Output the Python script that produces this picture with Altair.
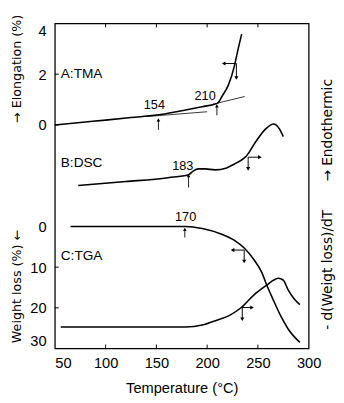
import altair as alt
import pandas as pd

# ---------------- data ----------------
# A: TMA  (elongation %, left upper axis)
TMA_T = [50, 75, 100, 125, 154, 180, 195, 210, 215, 221, 227, 230, 234]
TMA_E = [0.0, 0.1, 0.19, 0.29, 0.41, 0.6, 0.72, 0.85, 1.15, 1.58, 2.35, 2.9, 3.58]
TAN1_T = [140, 200]
TAN1_E = [0.33, 0.52]
TAN2_T = [205, 237]
TAN2_E = [0.81, 1.12]

# B: DSC (arbitrary units, endothermic up)
DSC_T = [73, 120, 161.5, 181.7, 186.5, 191.3, 198, 207.7, 219.2, 226.9, 233.7,
         238.5, 248, 257.7, 265.4, 271.2, 275]
DSC_D = [0.0, 0.4, 0.8, 1.1, 1.5, 1.7, 1.7, 1.6, 1.8, 2.2, 2.6,
         3.0, 4.5, 5.8, 6.3, 5.8, 5.0]

# C: TGA (weight loss %, left lower axis, reversed)
TGA_T = [65.4, 120, 178.8, 195.2, 214.4, 226.9, 236.5, 246.2, 253.8, 258.7,
         265.4, 272.1, 279.8, 291.3]
TGA_W = [0.0, 0.0, 0.0, 0.5, 1.9, 3.4, 5.3, 8.2, 11.3, 14.4,
         18.2, 21.8, 25.2, 28.5]

# DTG: -d(weight loss)/dT (arbitrary units)
DTG_T = [55.8, 120, 178.8, 195.2, 209.6, 222.1, 233.7, 246.2, 258.7, 265.4,
         270.2, 275, 279.8, 285.6, 291.3]
DTG_G = [0.0, 0.0, 0.0, 0.2, 0.7, 1.2, 2.0, 3.3, 4.3, 4.8,
         5.0, 4.8, 3.8, 2.9, 2.3]

# curve names
NAME_T = 55.8
TMA_NAME, TMA_NAME_V = "A:TMA", 2.0
DSC_NAME, DSC_NAME_V = "B:DSC", 2.3
TGA_NAME, TGA_NAME_V = "C:TGA", 7.4

# onset temperatures: label position and arrow (x, arrow top y, arrow bottom y)
TMA_LBL_T = [148, 198]
TMA_LBL_V = [0.77, 1.15]
TMA_LBL = ["154", "210"]
TMA_UP_T = [152, 209.6]
TMA_UP_TOP = [0.2, 0.75]
TMA_UP_BOT = [-0.19, 0.38]

DSC_LBL_T = [176]
DSC_LBL_V = [2.0]
DSC_LBL = ["183"]
DSC_UP_T = [181.7]
DSC_UP_TOP = [1.0]
DSC_UP_BOT = [-0.2]

TGA_LBL_T = [178.8]
TGA_LBL_V = [-2.4]
TGA_LBL = ["170"]
TGA_UP_T = [178]
TGA_UP_TOP = [0.7]
TGA_UP_BOT = [2.7]

# L-shaped axis markers: corner x, corner y, horizontal end x, vertical end y
TMA_L = [228.8, 2.42, 216.3, 1.85]
DSC_L = [240.4, 2.9, 252.0, 1.7]
TGA_L = [236.5, 5.8, 225.0, 8.6]
DTG_L = [234.6, 2.0, 244.2, 0.8]

X_TICKS = [50, 100, 150, 200, 250, 300]
TMA_TICKS = [0, 2, 4]
TGA_TICKS = [0, 10, 20, 30]

# ---------------- scales ----------------
W, H = 260, 333
XD = [50, 300]
TMA_D = [-8.81, 4]
DSC_DOM = [-16.7, 16.6]
TGA_DOM = [-49.9, 30]
DTG_DOM = [-2.2, 31.1]
FONT = "Liberation Sans"
AFONT = "DejaVu Sans"
TICK_PX = 4


def xs(axis=None):
    return alt.X("T:Q", scale=alt.Scale(domain=XD, nice=False, zero=False), axis=axis)


def ys(dom, rev=False, axis=None, field="v"):
    return alt.Y(f"{field}:Q", scale=alt.Scale(domain=dom, nice=False, zero=False, reverse=rev), axis=axis)


def line(T, V, dom, rev=False, xaxis=None, yaxis=None, width=1.6):
    df = pd.DataFrame({"T": T, "v": V})
    return alt.Chart(df).mark_line(color="black", strokeWidth=width, interpolate="monotone").encode(
        x=xs(xaxis), y=ys(dom, rev, yaxis))


def texts(T, V, L, dom, rev=False, align="center", size=13):
    df = pd.DataFrame({"T": T, "v": V, "t": L})
    return alt.Chart(df).mark_text(font=FONT, fontSize=size, color="black", align=align,
                                   baseline="middle").encode(x=xs(), y=ys(dom, rev), text="t:N")


def ups(T, top, bot, dom, rev=False):
    df = pd.DataFrame({"T": T, "v": bot, "v2": top})
    r = alt.Chart(df).mark_rule(color="black", strokeWidth=0.9).encode(
        x=xs(), y=ys(dom, rev), y2="v2:Q")
    h = pd.DataFrame({"T": T, "v": top})
    p = alt.Chart(h).mark_point(filled=True, color="black", size=14, opacity=1,
                                shape="triangle-up").encode(x=xs(), y=ys(dom, rev))
    return [r, p]


def lmark(L, dom, rev=False):
    cx, cy, hx, vy = L
    seg = pd.DataFrame({"T": [cx, cx], "T2": [hx, cx], "v": [cy, cy], "v2": [cy, vy]})
    rules = alt.Chart(seg).mark_rule(color="black", strokeWidth=1).encode(
        x=xs(), x2="T2:Q", y=ys(dom, rev), y2="v2:Q")
    heads = pd.DataFrame({"T": [hx, cx], "v": [cy, vy],
                          "s": ["triangle-left" if hx < cx else "triangle-right", "triangle-down"]})
    pts = alt.Chart(heads).mark_point(filled=True, color="black", size=18, opacity=1).encode(
        x=xs(), y=ys(dom, rev), shape=alt.Shape("s:N", scale=None))
    return [rules, pts]


# inward tick marks (drawn as rules at the tick values)
def xticks_inner():
    dy = (TMA_D[1] - TMA_D[0]) * TICK_PX / H
    vals = X_TICKS[1:-1]
    df = pd.DataFrame({"T": vals * 2,
                       "v": [TMA_D[0]] * len(vals) + [TMA_D[1]] * len(vals),
                       "v2": [TMA_D[0] + dy] * len(vals) + [TMA_D[1] - dy] * len(vals)})
    return alt.Chart(df).mark_rule(color="black", strokeWidth=1).encode(
        x=xs(), y=ys(TMA_D), y2="v2:Q")


def yticks_inner(vals, dom, rev=False):
    dx = (XD[1] - XD[0]) * TICK_PX / W
    df = pd.DataFrame({"T": [XD[0]] * len(vals), "T2": [XD[0] + dx] * len(vals), "v": vals})
    return alt.Chart(df).mark_rule(color="black", strokeWidth=1).encode(
        x=xs(), x2="T2:Q", y=ys(dom, rev))


# ---------------- axes ----------------
x_main = alt.Axis(orient="bottom", values=X_TICKS, ticks=False, domain=False, grid=False,
                  labelFontSize=15, labelPadding=7,
                  labelAlign={"condition": {"test": "datum.value == 50", "value": "left"}, "value": "center"},
                  title="Temperature (°C)", titleFontSize=15, titleFontWeight="normal",
                  titleY=40, titleBaseline="middle")

tma_left = alt.Axis(orient="left", values=TMA_TICKS, ticks=False, domain=False, grid=False,
                    labelFontSize=15, labelFlush=True, labelPadding=9,
                    title="→ Elongation (%)", titleX=-39, titleY=46, titleAngle=270,
                    titleAlign="center", titleBaseline="middle", titleFontSize=13,
                    titleFont=AFONT, titleFontWeight="normal")
tga_left = alt.Axis(orient="left", values=TGA_TICKS, ticks=False, domain=False, grid=False,
                    labelFontSize=15, labelFlush=True, labelPadding=9,
                    title="Weight loss (%) ←", titleX=-39, titleY=269, titleAngle=270,
                    titleAlign="center", titleBaseline="middle", titleFontSize=13,
                    titleFont=AFONT, titleFontWeight="normal")
dsc_right = alt.Axis(orient="right", ticks=False, labels=False, domain=False, grid=False,
                     title="→ Endothermic", titleX=19, titleY=109, titleAngle=270,
                     titleAlign="center", titleBaseline="middle", titleFontSize=14,
                     titleFont=AFONT, titleFontWeight="normal")
dtg_right = alt.Axis(orient="right", ticks=False, labels=False, domain=False, grid=False,
                     title="- d(Weigt loss)/dT", titleX=19, titleY=252, titleAngle=270,
                     titleAlign="center", titleBaseline="middle", titleFontSize=14,
                     titleFont=AFONT, titleFontWeight="normal")

layers = [
    line(TMA_T, TMA_E, TMA_D, xaxis=x_main, yaxis=tma_left),
    line(TAN1_T, TAN1_E, TMA_D, width=0.8),
    line(TAN2_T, TAN2_E, TMA_D, width=0.8),
    line(TGA_T, TGA_W, TGA_DOM, rev=True, yaxis=tga_left),
    line(DSC_T, DSC_D, DSC_DOM, yaxis=dsc_right),
    line(DTG_T, DTG_G, DTG_DOM, yaxis=dtg_right),
    xticks_inner(),
    yticks_inner(TMA_TICKS[:-1], TMA_D),
    yticks_inner(TGA_TICKS[1:-1], TGA_DOM, rev=True),
    texts([NAME_T], [TMA_NAME_V], [TMA_NAME], TMA_D, align="left", size=14),
    texts([NAME_T], [DSC_NAME_V], [DSC_NAME], DSC_DOM, align="left", size=14),
    texts([NAME_T], [TGA_NAME_V], [TGA_NAME], TGA_DOM, rev=True, align="left", size=14),
    texts(TMA_LBL_T, TMA_LBL_V, TMA_LBL, TMA_D),
    texts(DSC_LBL_T, DSC_LBL_V, DSC_LBL, DSC_DOM),
    texts(TGA_LBL_T, TGA_LBL_V, TGA_LBL, TGA_DOM, rev=True),
]
layers += ups(TMA_UP_T, TMA_UP_TOP, TMA_UP_BOT, TMA_D)
layers += ups(DSC_UP_T, DSC_UP_TOP, DSC_UP_BOT, DSC_DOM)
layers += ups(TGA_UP_T, TGA_UP_TOP, TGA_UP_BOT, TGA_DOM, rev=True)
layers += lmark(TMA_L, TMA_D)
layers += lmark(DSC_L, DSC_DOM)
layers += lmark(TGA_L, TGA_DOM, rev=True)
layers += lmark(DTG_L, DTG_DOM)

chart = alt.layer(*layers).resolve_scale(y="independent").resolve_axis(
    x="independent", y="independent").properties(
    width=W, height=H,
    padding={"left": 48, "top": 11, "right": 28, "bottom": 51},
    autosize=alt.AutoSizeParams(type="none"),
).configure_view(stroke="black", strokeWidth=1.3).configure_axis(
    labelFont=FONT, titleFont=FONT, labelColor="black", titleColor="black",
    tickColor="black", tickWidth=1)

chart.save("out.html", embed_options={"renderer": "svg", "actions": False})
